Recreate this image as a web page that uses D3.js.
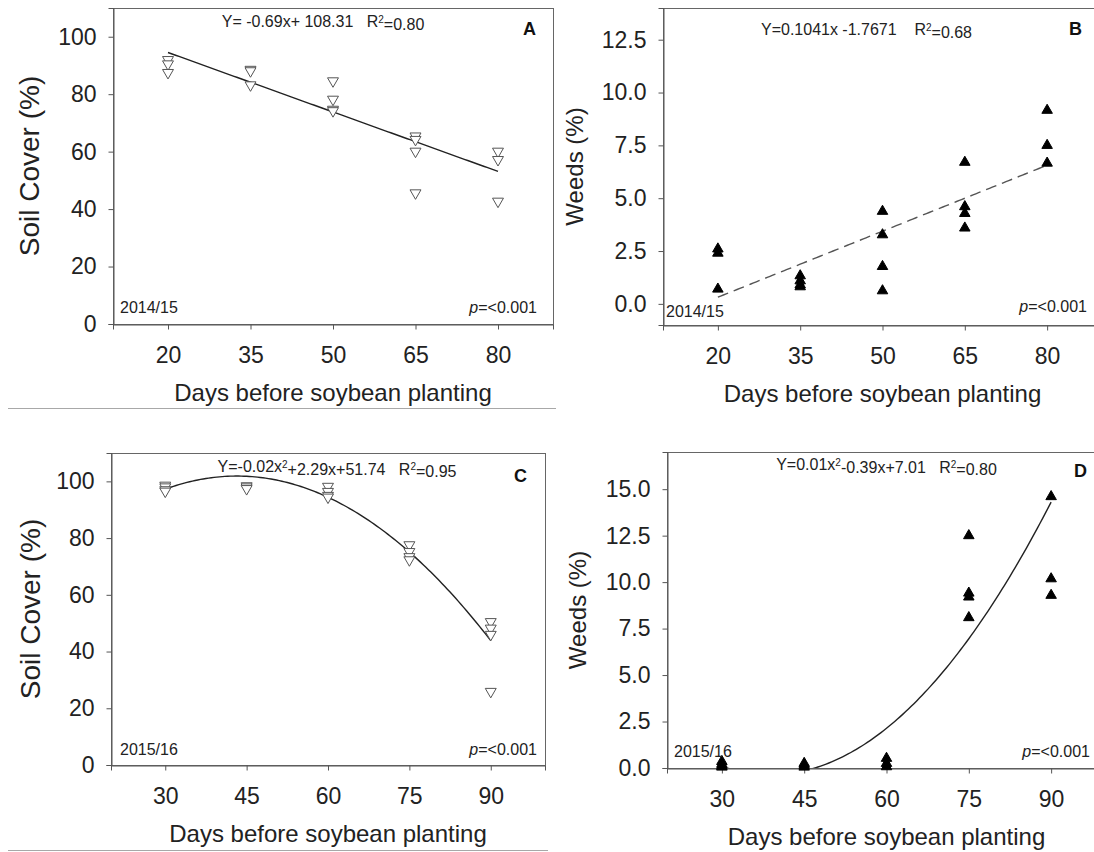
<!DOCTYPE html>
<html>
<head>
<meta charset="utf-8">
<script src="https://cdn.jsdelivr.net/npm/d3@7"></script>
<style>
  body { margin: 0; background: #fff; }
  svg { display: block; font-family: "Liberation Sans", Arial, sans-serif; }
</style>
</head>
<body>
<div class="top"></div>
<script>

// ---- data ----
const days1415 = [20, 35, 50, 65, 80];
const days1516 = [30, 45, 60, 75, 90];

const soilCover1415 = [[92, 90.5, 87.5], [88.6, 88.1, 83.2], [84.6, 78.2, 74.7, 74.2], [65.4, 64.2, 60.1, 45.6], [60.1, 57.2, 42.7]];
const weeds1415 = [[2.6, 2.4, 0.7], [1.33, 1.09, 0.81, 0.9], [4.38, 3.27, 1.77, 0.62], [6.7, 4.6, 4.28, 3.59], [9.16, 7.5, 6.66]];
const soilCover1516 = [[98.6, 98, 97, 96.5], [98.4, 98, 97.4], [98.2, 96.4, 95, 94.4], [77.6, 75.2, 73.4, 72.3], [50.5, 48.2, 46, 25.9]];
const weeds1516 = [[0.35, 0.2, 0.1, 0.05], [0.25, 0.15, 0.05], [0.52, 0.25, 0.07], [12.5, 9.41, 9.2, 8.09], [14.6, 10.18, 9.29]];

// regression coefficients [x^2, x, const]
const fitA = [0, -0.69, 108.31];
const fitB = [0, 0.1041, -1.7671];
const fitC = [-0.0265, 2.29, 52.4];
const fitD = [0.005624, -0.438, 8.17];

const soilTicks = [0, 20, 40, 60, 80, 100];
const weedsTicksB = [0, 2.5, 5, 7.5, 10, 12.5];
const weedsTicksD = [0, 2.5, 5, 7.5, 10, 12.5, 15];

const xTitle = 'Days before soybean planting';

// ---- panel layout ----
const panels = [
  {id:'A', days:days1415, vals:soilCover1415, fit:fitA, ticks:soilTicks, fmt:d3.format('d'),
   box:[113, 8, 553, 324], xd:[10, 90], yd:[0, 110], open:true, dash:null,
   yTitle:'Soil Cover (%)', yTitleX:29, yTitleSize:28,
   eq:['Y= -0.69x+ 108.31   R','2','=0.80'], eqX:-10, eqY:19, letterR:17, letterY:27,
   year:'2014/15', yearL:7, yearB:11, pR:16, pB:11},
  {id:'B', days:days1415, vals:weeds1415, fit:fitB, ticks:weedsTicksB, fmt:d3.format('.1f'),
   box:[663, 8, 1102, 325], xd:[10, 90], yd:[-1, 14], open:false, dash:'11,6',
   yTitle:'Weeds (%)', yTitleX:575, yTitleSize:24,
   eq:['Y=0.1041x -1.7671    R','2','=0.68'], eqX:-16, eqY:27, letterR:20, letterY:27,
   year:'2014/15', yearL:3, yearB:8, pR:15, pB:13},
  {id:'C', days:days1516, vals:soilCover1516, fit:fitC, ticks:soilTicks, fmt:d3.format('d'),
   box:[111, 453, 545, 765], xd:[20, 100], yd:[0, 110], open:true, dash:null,
   yTitle:'Soil Cover (%)', yTitleX:30, yTitleSize:28,
   eq:['Y=-0.02x','2','+2.29x+51.74   R','2','=0.95'], eqX:9, eqY:19, letterR:18, letterY:29,
   year:'2015/16', yearL:9, yearB:10, pR:8, pB:10},
  {id:'D', days:days1516, vals:weeds1516, fit:fitD, ticks:weedsTicksD, fmt:d3.format('.1f'),
   box:[667, 452, 1106, 768], xd:[20, 100], yd:[0, 17], open:false, dash:null,
   yTitle:'Weeds (%)', yTitleX:578, yTitleSize:24,
   eq:['Y=0.01x','2','-0.39x+7.01   R','2','=0.80'], eqX:0, eqY:18, letterR:19, letterY:25,
   year:'2015/16', yearL:7, yearB:11, pR:16, pB:11}
];

const svg = d3.select('.top').append('svg')
  .attr('width', 1094).attr('height', 852);

// faint separators left over from the source figure
svg.append('line').attr('x1', 8).attr('x2', 556).attr('y1', 408.5).attr('y2', 408.5)
  .attr('stroke', '#a8a8a8').attr('stroke-width', 1);
svg.append('line').attr('x1', 8).attr('x2', 548).attr('y1', 850.5).attr('y2', 850.5)
  .attr('stroke', '#a8a8a8').attr('stroke-width', 1);

panels.forEach(p => {
  const [l, t, r, b] = p.box;
  const x = d3.scaleLinear().domain(p.xd).range([l, r]);
  const y = d3.scaleLinear().domain(p.yd).range([b, t]);
  const g = svg.append('g').attr('class', 'panel-' + p.id);

  // clip
  g.append('clipPath').attr('id', 'clip' + p.id)
    .append('rect').attr('x', l).attr('y', t).attr('width', r - l).attr('height', b - t);

  // frame
  g.append('rect')
    .attr('x', l + 0.5).attr('y', t + 0.5)
    .attr('width', r - l).attr('height', b - t)
    .attr('fill', 'none').attr('stroke', '#666').attr('stroke-width', 1);

  // axes
  g.append('g').attr('transform', `translate(0,${b + 0.5})`)
    .call(d3.axisBottom(x).tickValues(p.days).tickSize(5).tickPadding(17).tickFormat(d3.format('d')))
    .call(sel => {
      sel.select('.domain').attr('stroke', '#555');
      sel.selectAll('.tick line').attr('stroke', '#555');
      sel.selectAll('.tick text').attr('fill', '#222').style('font-size', '23px');
    });

  g.append('g').attr('transform', `translate(${l + 0.5},0)`)
    .call(d3.axisLeft(y).tickValues(p.ticks).tickSize(5).tickPadding(12).tickFormat(p.fmt))
    .call(sel => {
      sel.select('.domain').attr('stroke', '#555');
      sel.selectAll('.tick line').attr('stroke', '#555');
      sel.selectAll('.tick text').attr('fill', '#222').style('font-size', '23px');
    });

  // titles
  g.append('text')
    .attr('x', (l + r) / 2)
    .attr('y', b + 77)
    .attr('text-anchor', 'middle')
    .attr('fill', '#222')
    .style('font-size', '24px')
    .text(xTitle);

  g.append('text')
    .attr('transform', `translate(${p.yTitleX},${(t + b) / 2}) rotate(-90)`)
    .attr('text-anchor', 'middle')
    .attr('dy', '0.35em')
    .attr('fill', '#222')
    .style('font-size', p.yTitleSize + 'px')
    .text(p.yTitle);

  // fitted curve
  const f = v => p.fit[0] * v * v + p.fit[1] * v + p.fit[2];
  const xs = d3.range(p.days[0], p.days[p.days.length - 1] + 0.01, 0.5);
  g.append('path')
    .datum(xs)
    .attr('clip-path', `url(#clip${p.id})`)
    .attr('fill', 'none')
    .attr('stroke', p.dash ? '#555' : '#222')
    .attr('stroke-width', 1.4)
    .attr('stroke-dasharray', p.dash)
    .attr('d', d3.line().x(v => x(v)).y(v => y(f(v))));

  // points
  const pts = p.days.flatMap((dd, i) => p.vals[i].map(v => ({x: dd, y: v})));
  g.append('g').selectAll('path').data(pts).join('path')
    .attr('transform', d => `translate(${x(d.x)},${y(d.y)})` + (p.open ? ' rotate(180)' : ''))
    .attr('d', d3.symbol(d3.symbolTriangle, p.open ? 52 : 48))
    .attr('fill', p.open ? '#fff' : '#000')
    .attr('stroke', p.open ? '#555' : '#000')
    .attr('stroke-width', 1);

  // equation
  const eq = g.append('text')
    .attr('x', (l + r) / 2 + p.eqX)
    .attr('y', t + p.eqY)
    .attr('text-anchor', 'middle')
    .attr('fill', '#222')
    .style('font-size', '16px')
    .style('white-space', 'pre')
    .attr('xml:space', 'preserve');
  p.eq.forEach((s, i) => {
    const sup = i % 2 === 1;
    eq.append('tspan')
      .attr('dy', sup ? '-0.45em' : (i > 0 ? '0.45em' : null))
      .style('font-size', sup ? '10px' : null)
      .text(s);
  });

  // panel letter
  g.append('text')
    .attr('x', r - p.letterR).attr('y', t + p.letterY)
    .attr('text-anchor', 'end')
    .attr('fill', '#111')
    .style('font-size', '18px').style('font-weight', 'bold')
    .text(p.id);

  // season and p value
  g.append('text')
    .attr('x', l + p.yearL).attr('y', b - p.yearB)
    .attr('fill', '#222').style('font-size', '16px')
    .text(p.year);

  g.append('text')
    .attr('x', r - p.pR).attr('y', b - p.pB)
    .attr('text-anchor', 'end')
    .attr('fill', '#222').style('font-size', '16px')
    .call(sel => {
      sel.append('tspan').style('font-style', 'italic').text('p');
      sel.append('tspan').text('=<0.001');
    });
});

</script>
</body>
</html>
